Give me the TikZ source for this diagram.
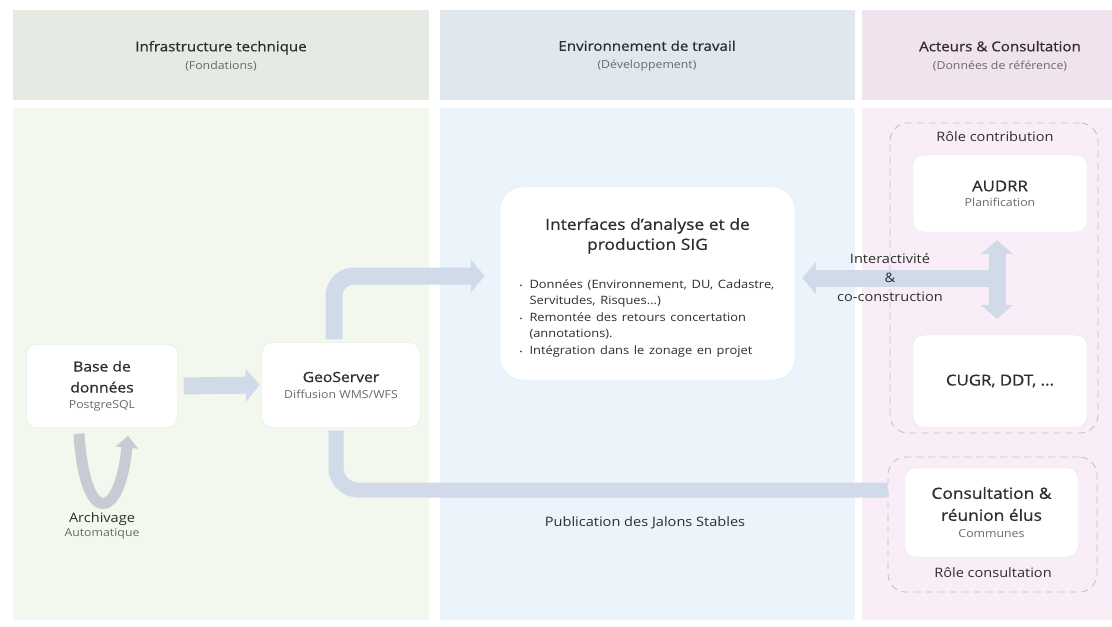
\documentclass[tikz,border=0pt]{standalone}
\usepackage{fontspec}
\setmainfont[FakeStretch=1.12]{Open Sans}
\newfontfamily\policetitre[FakeStretch=1.12,FakeBold=0.8]{Open Sans}
\usetikzlibrary{positioning,arrows.meta}

\definecolor{entetevert}{HTML}{E5EAE2}
\definecolor{fondvert}{HTML}{F2F8EE}
\definecolor{entetebleu}{HTML}{E0E7EE}
\definecolor{fondbleu}{HTML}{ECF4FB}
\definecolor{enteterose}{HTML}{F0E3EE}
\definecolor{fondrose}{HTML}{F9EEF8}
\definecolor{fleche}{HTML}{D0DAE8}
\definecolor{archive}{HTML}{C6CBD4}
\definecolor{tirets}{HTML}{C9B6C6}
\definecolor{texte}{HTML}{2E2E2E}
\definecolor{soustexte}{HTML}{6A6A6A}

\newcommand{\puce}[1]{\par\hangindent=10pt\hangafter=1\noindent\makebox[10pt][l]{\scriptsize\textbullet}#1}
\newcommand{\soustitre}[1]{{\normalfont\color{soustexte}\fontsize{11}{14}\selectfont #1}}

\begin{document}
\begin{tikzpicture}[x=1pt,y=-1pt
% Text styles
    , entete/.style={align=center
                    , text=texte
                    , font=\policetitre\fontsize{13.5}{18}\selectfont}
    , etiquette/.style={align=center
                    , text=texte
                    , font=\fontsize{13}{19}\selectfont}
% Box styles
    , boite/.style={rectangle
                    , rounded corners=10pt
                    , fill=white
                    , draw=black!10
                    , align=center
                    , text=texte
                    , font=\policetitre\fontsize{14}{21}\selectfont
                    , inner sep=0pt}
    , groupe/.style={rectangle
                    , rounded corners=18pt
                    , draw=tirets
                    , thick
                    , dash pattern=on 7pt off 5pt
                    , inner sep=0pt}
% Arrow styles
    , flux/.style={line width=17pt
                    , draw=fleche
                    , >={Triangle[width=32pt,length=14pt]}}
    , boucle/.style={line width=11pt
                    , draw=archive
                    , -{Triangle[width=22pt,length=12pt]}}
    ]
\useasboundingbox (0,0) rectangle (1112,627);

%% Columns
\fill[entetevert] (13,10) rectangle (429,100);
\fill[fondvert] (13,108) rectangle (429,620);
\fill[entetebleu] (440,10) rectangle (855,100);
\fill[fondbleu] (440,108) rectangle (855,620);
\fill[enteterose] (862,10) rectangle (1112,100);
\fill[fondrose] (862,108) rectangle (1112,620);

\node[entete] (hinfra) at (221,56) {Infrastructure technique\\\soustitre{(Fondations)}};
\node[entete] (henv) at (647,56) {Environnement de travail\\\soustitre{(Développement)}};
\node[entete] (hacteurs) at (1000,56) {Acteurs \& Consultation\\\soustitre{(Données de référence)}};

%% Boxes
\node[boite, minimum width=151, minimum height=83] (base) at (102,386)
    {Base de\\données\\[-5pt]\soustitre{PostgreSQL}};
\node[boite, minimum width=158, minimum height=85] (geo) at (341,385)
    {GeoServer\\[-5pt]\soustitre{Diffusion WMS/WFS}};
\node[boite, rounded corners=22pt, minimum height=193, text width=256, inner xsep=19.5pt, align=left] (sig) at (647.5,283.5)
    {{\centering\fontsize{15.5}{20}\selectfont\rule{0pt}{20pt}Interfaces d’analyse et de\\ production SIG\par}
     \vspace{22pt}
     {\normalfont\fontsize{11.5}{16.5}\selectfont\raggedright\hyphenpenalty=10000
     \puce{Données (Environnement, DU, Cadastre, Servitudes, Risques...)}
     \puce{Remontée des retours concertation (annotations).}
     \puce{Intégration dans le zonage en projet}\par}};

% Groups (Acteurs)
\node[groupe, minimum width=208, minimum height=310] (contrib) at (994,278) {};
\node[groupe, minimum width=209, minimum height=135] (consgrp) at (992.5,524.5) {};
\node[etiquette] (lcontrib) at (995,137) {Rôle contribution};
\node[etiquette] (lcons) at (993,573) {Rôle consultation};

\node[boite, minimum width=174, minimum height=77, font=\policetitre\fontsize{15}{20}\selectfont] (audrr) at (1000,193.5)
    {AUDRR\\[-5pt]\soustitre{Planification}};
\node[boite, minimum width=174, minimum height=92, font=\policetitre\fontsize{15}{20}\selectfont] (cugr) at (1000,381)
    {CUGR, DDT, ...};
\node[boite, minimum width=173, minimum height=89, font=\policetitre\fontsize{15.5}{22}\selectfont] (consult) at (991.5,512.5)
    {Consultation \&\\réunion élus\\[-5pt]\soustitre{Communes}};

%% Connectors
\draw[flux,->, shorten <=6pt, shorten >=2pt] (base.east) -- (geo.west);
\draw[flux,->, rounded corners=20pt, shorten <=3pt, shorten >=15pt]
    ([xshift=-7pt]geo.north) |- ([yshift=7.5pt]sig.west);
\draw[flux, line width=15pt, rounded corners=22pt, shorten <=3pt]
    ([xshift=-5pt]geo.south) |- ([yshift=34.5pt]consgrp.west);
\draw[flux,<->, shorten <=8pt, shorten >=16pt] ([xshift=-3pt]audrr.south) -- ([xshift=-3pt]cugr.north);
\coordinate (croix) at (997,278);
\draw[flux,->, shorten >=7pt] (croix) -- (croix -| sig.east);
\draw[boucle] ([xshift=-23pt,yshift=-6pt]base.south)
    .. controls +(6,95) and +(-8,85) .. ([xshift=26pt,yshift=-8pt]base.south);

%% Labels
\node[etiquette] (linter) at (890,278) {Interactivité\\\&\\co-construction};
\node[etiquette, below=81pt of base] (larchive) {Archivage\\[-5pt]\soustitre{Automatique}};
\node[etiquette] (lpub) at (645,523) {Publication des Jalons Stables};
\end{tikzpicture}
\end{document}
